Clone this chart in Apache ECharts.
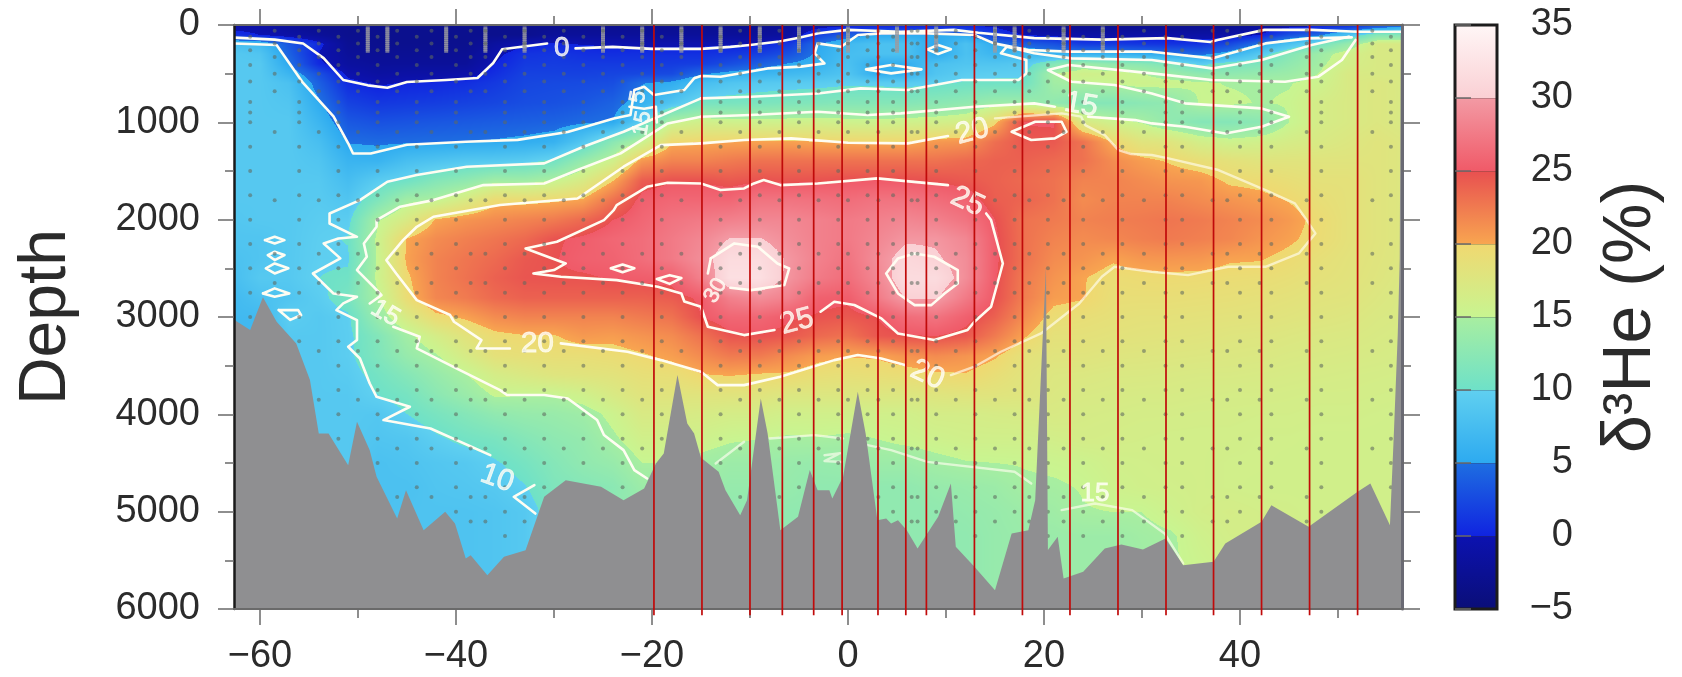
<!DOCTYPE html>
<html><head><meta charset="utf-8"><style>html,body{margin:0;padding:0;background:#fff}#c{width:1682px;height:677px}</style>
<script src="https://cdn.jsdelivr.net/npm/echarts@6/dist/echarts.min.js"></script></head>
<body><div id="c"></div><script>
const depthTicks=[0,1000,2000,3000,4000,5000,6000];
const latMajor=[-60,-40,-20,0,20,40];
const latMinor=[-50,-30,-10,10,30,50];
const gridLats=[-63,-60,-57,-54,-51,-48,-45,-42,-39,-36,-33,-30,-27,-24,-21,-18,-15,-12,-9,-6,-3,0,3,6,9,12,15,18,21,24,27,30,33,36,39,42,45,48,51,54,57];
const gridDepths=[0,100,200,300,400,500,600,800,1000,1200,1400,1600,1800,2000,2200,2400,2600,2800,3000,3200,3400,3600,3800,4000,4250,4500,4750,5000,5250,5500,5750,6000];
const r0=[-1,-1,-2,-3,-3,-3,-3,-3,-3,-3, -3,-3,-3,-3,-3,-3,-3,-3,-3,-2, -1,-0.5,-0.5,-0.5,-0.5,-0.5,-0.5,-2,-3,-3, -3,-3,-3,-3,-3,-2,-1,-0.5,0,2,4];
const r100=[1,0,-1,-2,-3,-3,-3,-3,-3,-3, -3,-2,-2,-2,-2,-2,-2,-2,-2,-1.5, 2,4,5.2,5.2,5.2,5.2,1.5,0,-0.5,-1, -1,-1,-1,-1,-1,0,3,4.5,8,12,12];
const r200=[8,7,3.5,0.5,-2.5,-3,-3,-3,-3,-1.5, -0.2,0.2,-0.1,-0.2,-0.3,-0.3,-0.3,-0.2,0,1.3, 5,7,8,8,4.9,8,5.3,4,3,1.5, 1.5,1.2,1,1,2.5,5.2,8,10.5,13.5,17,17];
const r300=[9,8.5,4.2,-0.1,-2,-2.5,-2.5,-2.5,-2.5,-0.5, 1,1.2,0.8,0.7,0.8,0.8,0.8,1.2,1.8,3, 5.5,7.5,8,8,5,8,6.5,7,6,6, 6,5.5,5,4.5,6,9,12,14,16,17,17];
const r400=[9,9,5,0.4,-1.5,-2,-2,-2,-2,0, 1.5,1.6,1.5,1.5,1.5,1.6,1.8,2.8,4,5.2, 6,8,5.5,5.5,8,8.5,8.5,9,12,14, 13,12.5,11.5,9.5,11,11.5,13,14.5,16.3,17,17];
const r500=[9,9,6.5,3,-0.4,-1.3,-1,-1,-0.7,0.7, 2,2,2,2.2,2.4,2.6,4.8,5.8,6.5,7, 7.5,8.5,5.5,6,8.5,9.5,9.7,9.7,15,16, 15.8,15.1,14,13,13,13.5,14,15,17,17,17];
const r600=[9,9,8,4,0.5,-0.2,0.1,0.3,0.7,1.4, 2.3,2.5,2.6,2.8,4.9,5.5,7.5,8.5,9,9.2, 9.4,9.7,9.6,9.5,9.7,10.2,10.3,10.3,14.5,15, 15.1,15.7,15.6,15.2,14.9,14.8,14.9,15.5,17,17.5,17];
const r800=[9,9,8.6,5.3,2,1.3,1.5,1.7,2,2.3, 2.8,3,3.4,4.2,6,8.5,10.8,11,11.2,11.5, 11.7,12,12,12,12.5,13,14,14,13,12, 12,12.5,13,15.2,15.3,14.9,15.2,16.5,17,17.5,17];
const r1000=[9,9,9,6.5,3.5,3,3.2,3.4,3.6,3.8, 4,4.2,4.7,5.1,9.5,15.2,16,15.8,15.7,15.8, 16,15.6,15.5,15.8,16,16.5,19.5,25.1,25.2,17, 15.7,14.8,13,12,12,12.5,15,16.5,17,17.5,17];
const r1200=[9,9,9,7.7,4.9,4.7,4.8,4.9,5,5.2, 5.5,6,8.7,12.5,15.4,19.8,20,20.2,20.2,20.3, 20,20,20,20,20.7,21,23.2,24.5,24.5,23, 19.8,18,17.8,16.2,15.6,16,16.6,17,17.5,18,17.5];
const r1400=[9,9,9,8.5,6.3,6.2,7.7,8.3,8.9,9, 9.4,10.5,13.5,16,20.8,22,22,22.5,23,23, 23,23,23,23,23,23.5,24,24,23.5,23, 21.5,20.5,19.8,19,18.5,18,18,18,18,18,17.5];
const r1600=[9,9,9,9,7.5,9.4,10.3,12,13,14.5, 14.3,15.2,17,20,24.3,24.9,24.9,24.5,24.9,24.8, 24.9,25.1,25.1,25.1,24.9,24.5,24,23.5,23,22, 22,21.5,21,20.8,19.7,19.5,19,18.5,18.5,18,17.5];
const r1800=[9,9,9,9.2,8.5,11.5,14.5,15,17,19.5, 19.4,19.7,20.2,23,25.5,26,26,26,27,27, 26.8,26.5,27,27,26.5,25.8,24.2,23.8,23,21.5, 22,22,22,21.5,21,20.5,19.9,19,18.5,18,17.5];
const r2000=[8.7,9,9,9.5,9.5,14.8,17,20.2,21,21.5, 22,22.5,23.5,25,26,27,27.5,28,28.5,28.5, 28,27.5,28,28.5,28,27,25,23,22.5,22, 22.3,22.5,22.8,22.5,22,21.5,20.7,19.5,18.5,18,17.5];
const r2200=[8.5,8.5,9,9.7,10.1,15.5,20.1,21.5,22.2,22.8, 23.5,24.8,25.3,26,26.5,27.5,28.5,30.1,30.1,29, 28,27.5,28.5,29.7,29.7,28.5,25.3,23,22,21.5, 21.8,22.2,22.5,22.2,21.8,21,20.3,19.4,18.5,18,17.5];
const r2400=[8,8.5,9,9.8,9.8,15.3,20.3,22,22.8,23.5, 24.5,24.9,25.5,25.7,26.5,27.5,29,31.5,31.5,29.7, 28,27,29,31,30.3,29,25.3,23,21.5,21, 20.2,20.8,20.9,20.8,20.2,20.1,19.5,18.8,18.3,17.9,17.5];
const r2600=[7.5,9,9,10,10.3,15.5,19.7,22,23,24, 24.7,24.8,24.8,25.1,25.3,25.5,28,32,32,29.5, 27.5,26.5,28.5,31.5,31.5,29,25.2,22.5,21,20.1, 19.3,19.5,19.6,19.5,19.3,19.2,18.9,18.5,18.2,17.8,17.2];
const r2800=[7,8,8.5,9.5,11,14.8,19.3,21.8,22.5,23.5, 24,24,24,24,24,24.3,25.3,28,29,28, 25.5,25.3,27.5,30.2,30.2,27.5,25,22.3,20.5,20.1, 19,19,19,18.9,18.8,18.6,18.4,18.1,18,17.5,17];
const r3000=[7,7,9.6,9,9.7,13.7,17,19.5,20.3,21.5, 22,22,22,22,22.5,23,25,26,26,25.2, 24.8,24.5,25,26.5,27,25.5,24,21.5,19.3,19, 18.7,18.5,18.5,18.4,18.3,18.2,18,17.8,17.6,17.2,17];
const r3200=[7,7,9,9,9.6,11.8,14.5,16.5,18.2,19.5, 19.9,19.9,20.7,20.5,21,21.5,23,24.7,24.9,24.5, 23.5,23,24.5,24.9,25,24.5,22.5,20.2,18.5,18.5, 18.3,18.2,18.1,18,17.8,17.7,17.5,17.3,17.2,17,16.8];
const r3400=[7,7,9,9,9.6,11.5,13.5,14.8,16.8,18.5, 18.8,19,19,19.3,19.8,20.4,21.5,22.5,22.5,21.5, 20.5,20.1,20.2,21,21.5,21,20.2,18.5,18,18, 17.8,17.7,17.6,17.5,17.4,17.3,17.1,17,16.9,16.8,16.6];
const r3600=[7,7,9,9,9.3,10.6,12,13.5,14.9,16.5, 17.2,17.8,18,18.2,18.8,19,19.9,20.1,19.8,19.7, 19,18.8,19,19.2,19.7,19.9,19,18.1,17.5,17.4, 17.2,17.2,17.1,17,17,16.9,16.8,16.7,16.6,16.5,16.4];
const r3800=[7,7,9,9,9,10,10.8,12.5,13.8,15.2, 15.1,15.1,15.8,17,18,18,18,18,18,17.5, 17.5,17.5,17.5,17.5,17.8,18,18,17.8,17.3,17, 16.9,16.8,16.8,16.7,16.6,16.6,16.5,16.4,16.4,16.3,16.2];
const r4000=[7,7,9,9,9,8.8,10,11,12,13, 13.5,13.7,14.2,15.5,17,17,16.8,16.5,16.5,16, 16,16,16,16,16.5,16.5,16.7,16.8,17,16.7, 16.6,16.5,16.5,16.4,16.4,16.3,16.3,16.2,16.2,16.1,16];
const r4250=[7,7,9,9,9,8.5,8.7,9.7,10.5,11, 12,12.8,13.3,14.7,16,16,15.7,15.2,15,14.8, 14.9,14.7,15,15.4,15.7,16,16,16,16.2,16.5, 16.4,16.3,16.2,16.2,16.2,16.1,16.1,16,16,16,16];
const r4500=[7,7,9,9,9,8,8.3,8.7,9,9.8, 10.8,12,13,13.6,15,15,14.5,14,14,13.7, 13.5,13.7,14,14,14.5,14.9,15,15.1,15.3,15.5, 16,16.1,16.2,16.2,16.1,16.1,16,16,16,16,16];
const r4750=[7,7,9,9,9,8,8,8.5,8.7,9, 9.9,11.5,12,12.5,14,14,14,13.5,13.5,13.5, 13,13,13,13,13.5,13.7,14,14.7,14.8,15.1, 15.7,16,16.1,16.2,16.1,16,16,16,16,16,16];
const r5000=[7,7,9,9,9,8,8.3,8.3,8.3,8.5, 9,11,13,13,13,13,13,13,13,13, 13,13,13,13,13,13.3,13.6,14,14.3,14.9, 15,15,15.7,16.3,16.5,16.3,16.2,16,16,16,16];
const r5250=[7,7,9,9,9,8,8.3,8.3,8.3,8.5, 9,11,13,13,13,13,13,13,13,13, 13,13,13,13,13,13,13.5,13.8,13.8,14, 14,14.5,14.8,15.8,16.3,16.3,16.2,16,16,16,16];
const r5500=[7,7,9,9,9,8,8.3,8.3,8.3,8.5, 9,11,13,13,13,13,13,13,13,13, 13,13,13,13,13,13,13.5,13.8,13.8,14, 14,14.3,14.8,15.5,16,16.2,16.2,16,16,16,16];
const r5750=r5500,r6000=r5500;
const fieldRows=[r0,r100,r200,r300,r400,r500,r600,r800,r1000,r1200,r1400,r1600,r1800,r2000,r2200,r2400,r2600,r2800,r3000,r3200,r3400,r3600,r3800,r4000,r4250,r4500,r4750,r5000,r5250,r5500,r5750,r6000];

const seafloor=[[-62.65,3000],[-62.6,3032],[-61,3134],[-59.7,2796],[-58.3,3049],[-56.3,3271],[-54.9,3648],[-54,4196],[-53,4196],[-51,4522],[-50.1,4077],[-48.8,4368],[-48.1,4642],[-46,5070],[-45.1,4779],[-43.3,5190],[-41.1,5002],[-40.1,5121],[-39,5481],[-38.5,5447],[-36.8,5652],[-35.1,5464],[-32.9,5396],[-31,4847],[-28.8,4676],[-25.2,4745],[-22.9,4882],[-20.8,4762],[-19.6,4505],[-18.8,4402],[-17.4,3597],[-16.4,4094],[-15.7,4196],[-15,4445],[-13.2,4590],[-12.5,4779],[-11,5036],[-10.3,4882],[-8.9,3837],[-8.2,4196],[-6.9,5190],[-5.1,5053],[-3.9,4573],[-3.1,4779],[-1.9,4779],[-1.6,4864],[-0.5,4642],[1,3768],[1.8,4196],[3,5087],[3.9,5070],[4.4,5121],[5.1,5087],[6,5190],[7.1,5378],[9.2,5053],[10.5,4710],[11,5361],[12.9,5567],[15,5807],[16.7,5224],[18.4,5190],[19.1,4882],[20.2,2490],[20.4,5395],[21.4,5258],[22,5687],[24,5618],[26.2,5378],[27.9,5337],[30.1,5389],[32.4,5275],[34.2,5550],[37.3,5515],[38.5,5327],[42.2,5104],[43.2,4933],[47,5156],[52,4796],[53.3,4710],[55.3,5139],[55.7,4196],[56.1,3170],[56.3,2400],[56.4,100],[56.53,0]];
const sectionLats=[-19.8,-14.9,-10,-6.7,-3.5,-0.6,3.06,5.9,8,12.9,17.8,22.65,27.55,32.45,37.3,42.2,47.1,52];

// contour pieces, [latitude, depth]
const c0a=[[-62.6,130],[-58.5,150],[-55.6,190],[-53.5,340],[-51.5,565],[-49,620],[-47,645],[-45,585],[-41,565],[-37.8,545],[-36.2,390],[-35.3,250],[-30.7,190]];
const c0b=[[-27.8,240],[-24,225],[-20,245],[-15,245],[-12,225],[-10,205],[-7,170],[-5,130],[-3,85],[0,50],[5.4,70],[10.8,50],[13.3,80],[19,135],[26,150],[32.6,135],[37,175],[37.7,155],[42.5,50],[47.3,50],[52,70],[56.4,70]];
const c5a=[[-62.6,190],[-58.3,205],[-55.6,595],[-52.5,940],[-51,1215],[-50.5,1320],[-48.7,1320],[-45,1230],[-39,1200],[-33.7,1180],[-28.6,1100],[-23.9,960],[-22.2,925],[-21.8,668],[-20.8,634],[-19.8,720],[-16.7,668],[-15.7,548],[-15,524],[-13,531],[-8.2,446],[-4.8,428],[-2.4,394],[-3.4,291],[-3.1,189],[-0.7,223],[1,103],[3.4,86],[8.1,86],[12.9,103],[14.9,189],[18.4,257],[22.5,274],[31,274],[37.1,343],[42.6,189],[47,137],[51.4,127]];
const c5lens1=[[1.84,456],[4.4,411],[7.5,456],[4.4,497],[1.84,456]];
const c5lens2=[[8.1,250],[9.2,206],[10.5,250],[9.2,298],[8.1,250]];
const c5lens3=[[-22.3,840],[-20.8,860],[-19.6,840],[-19.5,1000]];
const c10a=[[-15,754],[-22.9,1097],[-27,1251],[-31,1422],[-38.9,1456],[-44,1542],[-47,1610],[-49.8,1799],[-52.9,1936],[-52.9,2039],[-50.1,2176],[-52,2193],[-53.5,2244],[-51.8,2398],[-54.6,2553],[-52.5,2758],[-50.1,2792],[-51.5,2860],[-52.2,2929],[-50.1,3032],[-50.1,3237],[-51,3306],[-49.8,3426],[-48.8,3683],[-48.1,3820],[-44.7,3922],[-47.4,4059],[-42.6,4145],[-36.5,4419]];
const c10b=[[-32,4727],[-34.1,4847],[-31.9,5019]];
const c10c=[[-15,754],[-9.9,737],[-3.1,703],[1.3,651],[6.1,668],[11.6,565],[17.4,565],[18.2,497],[18.2,360],[15.6,291],[16.2,223],[19,291],[22.8,343],[31,360],[37.1,446],[42.2,360],[47.3,206],[51.1,120]];
const c10lens1=[[-59.5,2210],[-58.5,2175],[-57.5,2210],[-58.5,2244],[-59.5,2210]];
const c10lens2=[[-59.2,2364],[-58.5,2330],[-57.5,2364],[-58.5,2415],[-59.2,2364]];
const c10lens3=[[-59.4,2500],[-58.5,2450],[-57.1,2500],[-58.5,2553],[-59.4,2500]];
const c10lens4=[[-59.7,2758],[-58.5,2706],[-57,2758],[-58.5,2792],[-59.7,2758]];
const c10lens5=[[-58.1,2929],[-56.1,2929],[-55.8,2980],[-56.9,3030],[-58.1,2929]];
const c15a=[[-15,942],[-18.4,1011],[-23.2,1319],[-27.6,1490],[-31,1628],[-37.2,1645],[-42.3,1799],[-45.7,1867],[-48.1,2004],[-48.1,2073],[-49.4,2244],[-49.1,2381],[-50.1,2518],[-48.4,2690],[-47.6,2775],[-48.8,2861]];
const c15b=[[-46.4,3100],[-43.7,3203],[-44,3323],[-39.6,3545],[-35.5,3751],[-34.8,3802],[-31,3802],[-28.6,3837],[-25.6,4059],[-24.9,4213],[-22.9,4368],[-21.8,4573],[-20.5,4659]];
const c15c=[[-13.5,4505],[-10.6,4282]];
const c15d=[[-8,4248],[-3.4,4214],[-0.5,4248]];
const c15e=[[2,4316],[4.4,4368],[8.1,4488],[17,4590],[18.7,4710]];
const c15f=[[21.8,4984],[25.2,4916],[29,4984],[32.3,5224],[34.2,5532]];
const c15g=[[-2.4,4420],[-0.8,4400],[-2.4,4480],[-0.6,4490]];
const c15h=[[51.8,154],[50.4,360],[48,531],[44.6,583],[37.1,565],[31,497],[22.5,411],[20.4,463],[22.8,583],[27.2,617],[31,703],[34.4,805],[42.2,857],[45,942],[42.2,1045],[38.5,1114],[34.4,1045],[31,1011],[29.3,977],[24.5,942]];
const c15i=[[21.1,840],[19,805],[12.9,840],[5.4,908],[2,925],[-3.1,891],[-9.9,925],[-15,942]];
const c20a=[[-15,1216],[-19.1,1234],[-22.9,1456],[-27.6,1782],[-35.5,1850],[-42.3,1970],[-44,2073],[-45.4,2210],[-47.1,2416],[-46.1,2553],[-44,2827],[-40.6,2980],[-40.2,3049],[-37.4,3237],[-37.9,3323],[-34.5,3323]];
const c20b=[[-29.3,3271],[-22.5,3357],[-19.1,3443],[-15,3563],[-13.3,3700],[-10.6,3700],[-6.9,3614],[-1.4,3443],[1,3391],[3.4,3426],[5.8,3494]];
const c20c=[[10.5,3597],[12.9,3511],[15.6,3357],[19.7,3169],[23.6,2861],[25.9,2587],[27.2,2484],[31,2535],[34.7,2570],[38.8,2484],[42.6,2484],[46,2347],[47.7,2141],[46.8,2004],[45.6,1833],[42.6,1696],[37.8,1490],[32.7,1371],[31,1336],[28.9,1326],[27.6,1285],[26.2,1131],[24.2,1028],[23.8,942],[21.8,908],[15,959]];
const c20d=[[10.2,1141],[6.1,1216],[0,1210],[-5.8,1165],[-10.6,1182],[-15,1216]];
const c25a=[[-7.5,3134],[-10.6,3186],[-14.3,3100],[-15,2895],[-16.7,2840],[-17,2758],[-19.4,2690],[-23.6,2621],[-29.3,2587],[-32.1,2553],[-30,2518],[-28.8,2450],[-32.9,2296],[-29.7,2227],[-24.9,2004],[-23.9,1902],[-23.6,1850],[-20.5,1662],[-18.4,1621],[-15,1628],[-13,1696],[-10.6,1679],[-9.6,1628],[-8.6,1593],[-6.9,1645],[-3.1,1628],[3,1576],[10.2,1645]];
const c25b=[[14.1,1936],[14.6,2004],[15.8,2450],[14.6,2895],[12.9,3049],[12.2,3134],[8.8,3237],[5.1,3169],[3.4,3014],[0.65,2877],[-1.4,2843],[-2.8,2946]];
const c25lens1=[[16.7,1097],[19.1,994],[21.8,994],[22.3,1097],[21.1,1165],[18.7,1182],[16.7,1097]];
const c25lens2=[[-24.2,2500],[-23,2460],[-21.8,2500],[-23,2540],[-24.2,2500]];
const c25lens3=[[-19.5,2610],[-18.2,2570],[-17,2600],[-18.2,2660],[-19.5,2610]];
const c30a=[[-14,2398],[-11.6,2244],[-9.2,2279],[-7.2,2450],[-6,2501],[-6.5,2672],[-9.9,2724],[-12,2700]];
const c30b=[[-14.3,2553],[-14,2398]];
const c30c=[[3.9,2553],[5.1,2398],[6.8,2347],[8.8,2381],[11.2,2518],[11.2,2655],[9.85,2758],[8.5,2878],[6.8,2878],[5.1,2758],[3.9,2553]];
const brightContours=[c0a,c0b,c5a,c5lens1,c5lens2,c5lens3,c10a,c10b,c10c,c10lens1,c10lens2,c10lens3,c10lens4,c10lens5,c15a,c15b,c15h,c15i,c20a,c20b,c20d,c25a,c25b,c25lens1,c25lens2,c25lens3,c30a,c30b,c30c];
const paleContours=[c15c,c15d,c15e,c15f,c15g,c20c];

const contourLabels=[["0",-29.2,240,0,28],["5",-21.4,740,80,22],["15",-21,1010,80,22],["10",-35.8,4659,-20,30],["15",-47.2,2963,-30,26],["20",-31.7,3271,0,30],["25",-5.2,3049,15,30],["25",12.2,1816,-25,30],["20",12.7,1096,15,30],["20",8.1,3597,-25,30],["15",23.8,822,-10,30],["15",25.2,4813,0,26],["30",-13.5,2730,60,22]];

const stationsFull=[-61,-56,-52,-48,-44,-40,-35,-31,-27,-23,-19,-13,-9,-5,-1,2,4.6,9,13,17,20.4,24,28,32.4,34.1,40,43.2,48.3,55.4];
const stationsHalf=[-58.5,-54,-50,-46,-42.5,-38.5,-37,-33,-29,-25,-21,-17,-11,-7,-3,0,3.1,6.5,7.1,11,15,18.5,22,26,30.2,37.2,38.7,42,46.8,53.5];
const levelsFull=[1000,1250,1500,1750,2000,2250,2500,2750,3000,3250,3500,3750,4000,4250,4500,4750,5000,5250];
const levelsHalf=[1100,1800,2350,2650,3350,3850,4350,4850,5100];
const levelsShallow=[120,260,410,580,790,900];
const levelsShallowAlt=[60,190,330,500,680];
const stationsDense=[-49,-47,-41,-37,-33,-25,-21,-17,-13,-9,-5,0,5,9,15,17,22,26];
const levelsDense=[30,50,70,90,110,130,150,170,190,210,230,250,270];

const colorBands=[[-5,0,'#0a0e78','#0c12b0'],[0,5,'#1024e0','#1e6ee1'],[5,10,'#2daaf0','#60d0f0'],[10,15,'#6ee1c8','#a8eea0'],[15,20,'#c8f591','#f0d870'],[20,25,'#f8a550','#e85050'],[25,30,'#f05a68','#f39aa4'],[30,35,'#fad0d4','#fff6f6']];

const LAT_MIN=-62.65,LAT_MAX=56.53;
const hex=h=>[1,3,5].map(i=>parseInt(h.substr(i,2),16));
const bandRGB=colorBands.map(b=>[b[0],b[1],hex(b[2]),hex(b[3])]);
function colorOf(v){
  v=Math.max(-5,Math.min(34.99,v));
  const b=bandRGB[Math.floor((v+5)/5)],t=(v-b[0])/(b[1]-b[0]);
  return [0,1,2].map(k=>b[2][k]+(b[3][k]-b[2][k])*t);
}
const heatData=[];
for(let j=0;j<gridDepths.length-1;j++)for(let i=0;i<gridLats.length-1;i++)heatData.push([gridLats[i],gridDepths[j],i,j]);
function renderHeat(params,api){
  const i=api.value(2),j=api.value(3);
  const a=api.coord([gridLats[i],gridDepths[j]]),b=api.coord([gridLats[i+1],gridDepths[j+1]]);
  const x0=Math.round(a[0]),y0=Math.round(a[1]),w=Math.round(b[0])-x0,h=Math.round(b[1])-y0;
  if(w<=0||h<=0)return null;
  const cv=document.createElement('canvas');cv.width=w;cv.height=h;
  const ctx=cv.getContext('2d'),img=ctx.createImageData(w,h);
  const tl=fieldRows[j][i],tr=fieldRows[j][i+1],bl=fieldRows[j+1][i],br=fieldRows[j+1][i+1];
  for(let y=0;y<h;y++){const ty=(y+.5)/h;for(let x=0;x<w;x++){const tx=(x+.5)/w;
    const v=(tl*(1-tx)+tr*tx)*(1-ty)+(bl*(1-tx)+br*tx)*ty,c=colorOf(v),o=(y*w+x)*4;
    img.data[o]=c[0];img.data[o+1]=c[1];img.data[o+2]=c[2];img.data[o+3]=255;}}
  ctx.putImageData(img,0,0);
  return {type:'image',silent:true,style:{image:cv,x:x0,y:y0,width:w,height:h}};
}
function floorAt(lat){
  for(let k=1;k<seafloor.length;k++){if(lat<=seafloor[k][0]){const p=seafloor[k-1],q=seafloor[k];return p[1]+(q[1]-p[1])*(lat-p[0])/(q[0]-p[0]);}}
  return 0;
}
const dotsDeep=[];
stationsFull.forEach(s=>levelsFull.forEach(d=>{if(d<floorAt(s)-40)dotsDeep.push([s,d]);}));
stationsHalf.forEach(s=>levelsHalf.forEach(d=>{if(d<floorAt(s)-40)dotsDeep.push([s,d]);}));
stationsFull.forEach(s=>levelsShallow.forEach(d=>dotsDeep.push([s,d])));
stationsHalf.forEach(s=>levelsShallowAlt.forEach(d=>dotsDeep.push([s,d])));
const dotsDense=[];
stationsDense.forEach(s=>levelsDense.forEach(d=>dotsDense.push([s,d])));

const tickColor='#6a6a6a',textColor='#2b2b2b',font='"Liberation Sans", Arial, sans-serif';
const fmtMinus=v=>String(v).replace('-','\u2212');
function xAx(pos,vals,len,labels){return {type:'value',gridIndex:0,position:pos,min:LAT_MIN,max:LAT_MAX,z:20,splitLine:{show:false},
  axisLine:{show:true,onZero:false,lineStyle:{color:tickColor,width:2}},
  axisTick:{show:true,length:len,customValues:vals,lineStyle:{color:tickColor,width:1.5}},
  axisLabel:labels?{show:true,customValues:vals,margin:29,fontSize:38,color:textColor,fontFamily:font,formatter:fmtMinus}:{show:false}};}
function yAx(pos,labels,name){return {type:'value',gridIndex:0,position:pos,inverse:true,min:0,max:6000,interval:1000,z:20,splitLine:{show:false},
  name:name||'',nameLocation:'middle',nameGap:154,nameRotate:90,nameTextStyle:{fontSize:66,color:textColor,fontFamily:font},
  axisLine:{show:true,onZero:false,lineStyle:{color:labels?'#1a1a1a':'#6a6a74',width:labels?2.5:3}},
  axisTick:{show:true,length:labels?16:18,lineStyle:{color:tickColor,width:1.5}},
  minorTick:{show:true,splitNumber:2,length:9,lineStyle:{color:tickColor,width:1.5}},minorSplitLine:{show:false},
  axisLabel:labels?{show:true,margin:34,fontSize:38,color:textColor,fontFamily:font,padding:[10,0,0,0],customValues:depthTicks,formatter:v=>String(v)}:{show:false}};}

const series=[];
series.push({type:'custom',xAxisIndex:0,yAxisIndex:0,data:heatData,renderItem:renderHeat,clip:true,silent:true,z:1,animation:false,encode:{x:0,y:1}});
brightContours.forEach(c=>series.push({type:'line',xAxisIndex:0,yAxisIndex:0,data:c,symbol:'none',z:3,silent:true,animation:false,lineStyle:{color:'#fffdf2',width:2.6,join:'round',cap:'round'}}));
paleContours.forEach(c=>series.push({type:'line',xAxisIndex:0,yAxisIndex:0,data:c,symbol:'none',z:3,silent:true,animation:false,lineStyle:{color:'#fffdf0',opacity:.65,width:2.4,join:'round',cap:'round'}}));
series.push({type:'scatter',xAxisIndex:0,yAxisIndex:0,data:dotsDense,symbol:'rect',symbolSize:[4,3],z:4,silent:true,animation:false,itemStyle:{color:'rgba(155,155,160,.9)'}});
series.push({type:'scatter',xAxisIndex:0,yAxisIndex:0,data:dotsDeep,symbolSize:4,z:4,silent:true,animation:false,itemStyle:{color:'rgba(95,105,95,.72)'}});
series.push({type:'scatter',xAxisIndex:0,yAxisIndex:0,symbolSize:0,z:5,silent:true,animation:false,
  data:contourLabels.map(l=>({value:[l[1],l[2]],name:l[0],label:{rotate:l[3],fontSize:l[4]}})),
  label:{show:true,position:'inside',formatter:p=>p.name,color:'#fffef5',fontFamily:font,textBorderColor:'#fffef5',textBorderWidth:0.8}});
series.push({type:'line',xAxisIndex:0,yAxisIndex:0,data:seafloor,symbol:'none',z:6,silent:true,animation:false,lineStyle:{width:0},areaStyle:{color:'#8f8f91',opacity:1,origin:'end'}});
sectionLats.forEach(l=>series.push({type:'line',xAxisIndex:0,yAxisIndex:0,data:[[l,0],[l,6065]],symbol:'none',clip:false,z:30,silent:true,animation:false,lineStyle:{color:'#c00a0a',width:1.7}}));
series.push({type:'custom',xAxisIndex:4,yAxisIndex:2,data:colorBands.map(b=>[b[0],b[1],b[2],b[3]]),silent:true,animation:false,z:2,encode:{y:[0,1]},
  renderItem(params,api){
    const b=colorBands[params.dataIndex],lo=api.coord([0,b[0]]),hi=api.coord([1,b[1]]);
    return {type:'group',children:[
      {type:'rect',shape:{x:lo[0],y:hi[1],width:hi[0]-lo[0],height:lo[1]-hi[1]},style:{fill:new echarts.graphic.LinearGradient(0,1,0,0,[{offset:0,color:b[2]},{offset:1,color:b[3]}])}},
      {type:'line',shape:{x1:lo[0],y1:hi[1],x2:hi[0],y2:hi[1]},style:{stroke:'rgba(60,60,60,.55)',lineWidth:1.2}}]};
  }});
series.push({type:'custom',xAxisIndex:4,yAxisIndex:2,data:[[-5,35]],silent:true,animation:false,z:3,encode:{y:[0,1]},
  renderItem(params,api){
    const lo=api.coord([0,-5]),hi=api.coord([1,35]);
    return {type:'rect',shape:{x:lo[0],y:hi[1],width:hi[0]-lo[0],height:lo[1]-hi[1]},style:{fill:'none',stroke:'#1c1c1c',lineWidth:3}};
  }});

const chart=echarts.init(document.getElementById('c'),null,{renderer:'canvas',devicePixelRatio:1});
chart.setOption({animation:false,backgroundColor:'#fff',tooltip:{show:false},
  grid:[{left:234,width:1168,top:25,height:584,show:false},{left:1455,width:42,top:25,height:584,show:false}],
  xAxis:[xAx('bottom',latMajor,16,true),xAx('top',latMajor,16,false),xAx('top',latMinor,9,false),xAx('bottom',latMinor,9,false),
    {type:'value',gridIndex:1,min:0,max:1,show:false}],
  yAxis:[yAx('left',true,'Depth'),yAx('right',false),
    {type:'value',gridIndex:1,position:'right',min:-5,max:35,interval:5,z:20,splitLine:{show:false},
     name:'\u03b4\u00b3He (%)',nameLocation:'middle',nameGap:100,nameRotate:90,nameTextStyle:{fontSize:68,color:textColor,fontFamily:font},
     axisLine:{show:false},axisTick:{show:true,length:16,lineStyle:{color:tickColor,width:1.5}},
     axisLabel:{show:true,align:'right',margin:76,fontSize:38,color:textColor,fontFamily:font,padding:[10,0,0,0],formatter:fmtMinus}}],
  series});
</script></body></html>
